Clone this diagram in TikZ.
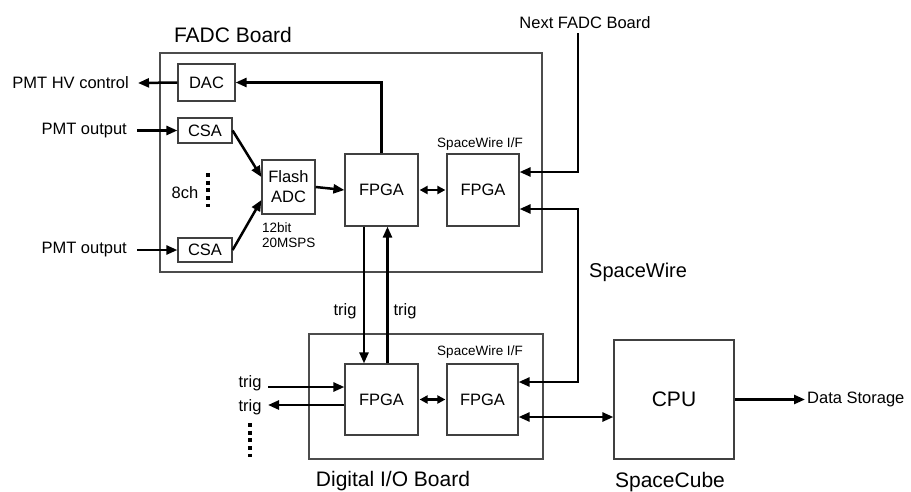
\documentclass[tikz,border=0pt]{standalone}
\usepackage{fontspec}
\setmainfont{Liberation Sans}
\usetikzlibrary{arrows.meta}
\tikzset{
  blk/.style={draw=black!75, line width=1.2pt, inner sep=0pt, font=\fontsize{16.5}{19}\selectfont},
  board/.style={draw=black!70, line width=1.2pt},
  arr/.style={line width=2.5pt, -{Triangle[length=11pt,width=9pt]}},
  arrb/.style={line width=2.5pt, {Triangle[length=11pt,width=9pt]}-{Triangle[length=11pt,width=9pt]}},
  arrs/.style={line width=2.2pt, {Triangle[length=8pt,width=8pt]}-{Triangle[length=8pt,width=8pt]}, shorten <=1pt, shorten >=1pt},
  lbl/.style={inner sep=0pt, font=\fontsize{16.5}{19}\selectfont},
  biglbl/.style={inner sep=0pt, font=\fontsize{21}{24}\selectfont},
  smalllbl/.style={inner sep=0pt, font=\fontsize{13.5}{16}\selectfont},
  vdots/.style={line width=4pt, dash pattern=on 4pt off 3.7pt}
}
\begin{document}
\begin{tikzpicture}[x=1pt,y=-1pt]
\useasboundingbox (0,0) rectangle (911,491);
% boards
\draw[board] (160,53) rectangle (542,272);
\draw[board] (309,334) rectangle (543,459);
\node[biglbl] (fadclbl) at (233,35) {FADC Board};
\node[biglbl] (diolbl) at (393,481) {Digital I/O Board};
\node[biglbl] (sclbl) at (670,482) {SpaceCube};
% blocks
\node[blk, minimum width=57pt, minimum height=37pt] (DAC) at (206.5,82.5) {DAC};
\node[blk, minimum width=54pt, minimum height=25pt] (CSA1) at (205,130.5) {CSA};
\node[blk, minimum width=54pt, minimum height=24pt] (CSA2) at (205,250) {CSA};
\node[blk, minimum width=53pt, minimum height=54pt, align=center, font=\fontsize{16.5}{20}\selectfont] (ADC) at (288.5,187) {Flash\\ADC};
\node[blk, minimum width=73pt, minimum height=72pt] (FPGA1) at (381.5,190) {FPGA};
\node[blk, minimum width=72pt, minimum height=72pt] (FPGA2) at (483,190) {FPGA};
\node[blk, minimum width=73pt, minimum height=71pt] (FPGA3) at (381.5,399.5) {FPGA};
\node[blk, minimum width=71pt, minimum height=71pt] (FPGA4) at (482.5,399.5) {FPGA};
\node[blk, minimum width=120pt, minimum height=119pt, font=\fontsize{21}{24}\selectfont] (CPU) at (674,399.5) {CPU};
% labels
\node[lbl, anchor=east] (hvlbl) at (129,83) {PMT HV control};
\node[lbl, anchor=east] (pmt1) at (127,131) {PMT output};
\node[lbl, anchor=east] (pmt2) at (127,250) {PMT output};
\node[lbl] (ch8) at (185,193) {8ch};
\node[smalllbl, anchor=west] (bit12) at (262,228) {12bit};
\node[smalllbl, anchor=west] (msps) at (262,243) {20MSPS};
\node[smalllbl] (swif1) at (480,144) {SpaceWire I/F};
\node[smalllbl] (swif2) at (480,352) {SpaceWire I/F};
\node[lbl] (nextlbl) at (585,23) {Next FADC Board};
\node[inner sep=0pt, font=\fontsize{20}{24}\selectfont, anchor=west] (swlbl) at (589,272) {SpaceWire};
\node[lbl] (trigd) at (345,311) {trig};
\node[lbl] (trigu) at (405,311) {trig};
\node[lbl] (trigin) at (250,383) {trig};
\node[lbl] (trigout) at (250,407) {trig};
\node[lbl, anchor=west] (dslbl) at (807,399) {Data Storage};
% coordinates
\coordinate (hvend) at (138,83);
\coordinate (pin1) at (137,130.5);
\coordinate (pin2) at (137,250);
\coordinate (nexttop) at (578,33);
\coordinate (swmid) at (578,300);
\coordinate (tin) at (268,387);
\coordinate (tout) at (268,405);
\coordinate (dsend) at (805,399.5);
% connectors
\draw[arr] (DAC.west) -- (hvend);
\draw[arr] (pin1) -- (CSA1.west);
\draw[arr] (pin2) -- (CSA2.west);
\draw[arr] (CSA1.east) -- ([yshift=10pt]ADC.west);
\draw[arr] (CSA2.east) -- ([yshift=-13pt]ADC.west);
\draw[arr] (ADC.east) -- (FPGA1.west);
\draw[arr] (FPGA1.north) |- (DAC.east);
\draw[arrs] (FPGA1.east) -- (FPGA2.west);
\draw[arr] (nexttop) |- ([yshift=18pt]FPGA2.east);
\draw[arrb] ([yshift=-19pt]FPGA2.east) -| (swmid) |- ([yshift=17.5pt]FPGA4.east);
\draw[arr] ([xshift=-17.5pt]FPGA1.south) -- ([xshift=-17.5pt]FPGA3.north);
\draw[arr] ([xshift=6pt]FPGA3.north) -- ([xshift=6pt]FPGA1.south);
\draw[arrs] (FPGA3.east) -- (FPGA4.west);
\draw[arr] (tin) -- ([yshift=12.5pt]FPGA3.west);
\draw[arr] ([yshift=-5.5pt]FPGA3.west) -- (tout);
\draw[arrb] ([yshift=-17.5pt]FPGA4.east) -- ([yshift=-17.5pt]FPGA4.east -| CPU.west);
\draw[arr] (CPU.east) -- (dsend);
% dots
\draw[vdots] (208,173) -- (208,207);
\draw[vdots] (250,423) -- (250,457);
\end{tikzpicture}
\end{document}
